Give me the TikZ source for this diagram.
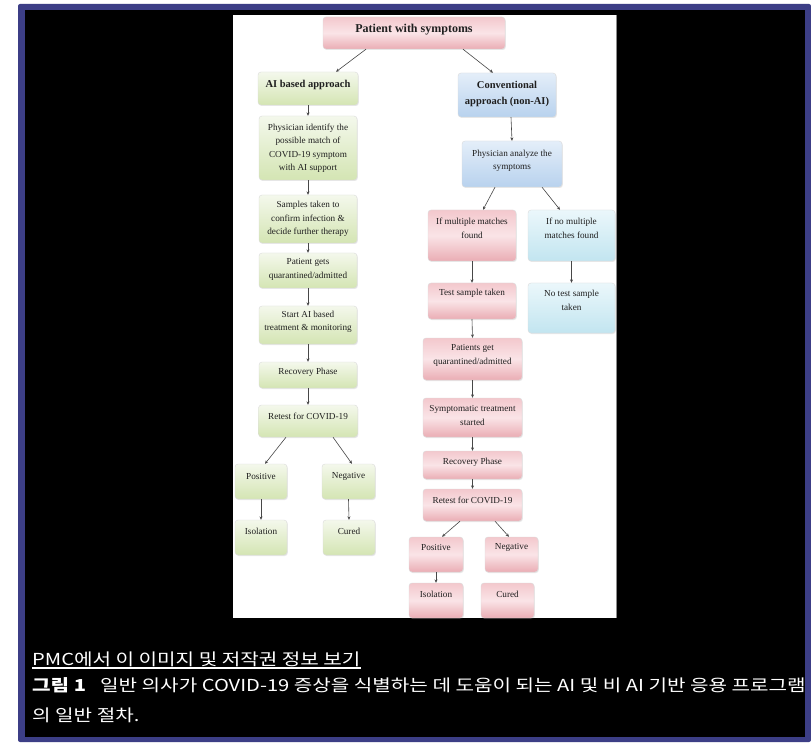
\documentclass[tikz,border=0pt]{standalone}
\usepackage{fontspec}
\usepackage{graphicx}
\setmainfont{Liberation Serif}
\newfontfamily\krfont{Noto Sans CJK KR}
\usetikzlibrary{arrows.meta,shadows,calc}
\definecolor{framebl}{HTML}{3C3E86}
\definecolor{gtop}{HTML}{F4F8EC}
\definecolor{gbot}{HTML}{D4E5B3}
\definecolor{ptop}{HTML}{F3C8CD}
\definecolor{pmid}{HTML}{FAE4E7}
\definecolor{pbot}{HTML}{EAADB4}
\definecolor{btop}{HTML}{E4EEF9}
\definecolor{bbot}{HTML}{B8D2EE}
\definecolor{ctop}{HTML}{EBF7FB}
\definecolor{cbot}{HTML}{C2E5F0}
\newcommand{\flowbox}[9]{%
  \node[#1, minimum width=#5pt, minimum height=#6pt] (#2) at (#3,#4) {};
  \node[#7] (#2t) at ([yshift=#8pt]#2.center) {#9};
}
\tikzset{
  bx/.style={rounded corners=3pt, draw=black!14, line width=0.4pt, inner sep=0pt,
    drop shadow={opacity=0.18, shadow xshift=0.8pt, shadow yshift=-1pt}},
  gbox/.style={bx, top color=gtop, bottom color=gbot},
  pbox/.style={bx, top color=ptop, bottom color=pbot, middle color=pmid},
  bbox/.style={bx, top color=btop, bottom color=bbot},
  cbox/.style={bx, top color=ctop, bottom color=cbot},
  boxtext/.style={align=center, inner sep=0pt, text=black!88, font=\fontsize{9.2}{13.5}\selectfont},
  boldtext/.style={boxtext, font=\bfseries\fontsize{10.5}{16}\selectfont},
  headtext/.style={boxtext, font=\bfseries\fontsize{12}{14}\selectfont},
  arr/.style={draw=black!72, line width=0.6pt, -{Stealth[length=3.4pt,width=3pt]}},
  captext/.style={text=white, inner sep=0pt, anchor=base west, font=\krfont\fontsize{16.5}{18}\selectfont}
}
\begin{document}
\begin{tikzpicture}[x=1pt,y=-1pt]
\useasboundingbox (0,0) rectangle (811,743);
\fill[white] (0,0) rectangle (811,743);
\fill[framebl, rounded corners=2pt] (18,4) rectangle (811,742);
\fill[black] (25,10) rectangle (805,737);
\fill[white] (233,15) rectangle (616,618);
\draw[black!45, line width=0.8pt] (616,15) -- (616,618);

% top
\flowbox{pbox}{pws}{414}{33}{182}{32}{headtext}{3}{Patient with symptoms}
\flowbox{gbox}{ai}{308}{88.5}{100}{33}{boldtext}{4}{AI based approach}
\flowbox{bbox}{conv}{507}{95}{98}{44}{boldtext}{1}{Conventional\\approach (non-AI)}
% AI column
\flowbox{gbox}{a1}{308}{148}{98}{64}{boxtext}{0}{Physician identify the\\possible match of\\COVID-19 symptom\\with AI support}
\flowbox{gbox}{a2}{308}{219}{98}{48}{boxtext}{0}{Samples taken to\\confirm infection \&\\decide further therapy}
\flowbox{gbox}{a3}{308}{270.5}{98}{35}{boxtext}{1}{Patient gets\\quarantined/admitted}
\flowbox{gbox}{a4}{308}{325}{98}{38}{boxtext}{3}{Start AI based\\treatment \& monitoring}
\flowbox{gbox}{a5}{308}{375}{98}{26}{boxtext}{3}{Recovery Phase}
\flowbox{gbox}{a6}{308}{421}{99}{32}{boxtext}{5}{Retest for COVID-19}
\flowbox{gbox}{a7}{261}{481.5}{52}{35}{boxtext}{5.5}{Positive}
\flowbox{gbox}{a8}{348.5}{481.5}{53}{35}{boxtext}{5.5}{Negative}
\flowbox{gbox}{a9}{261}{537.5}{52}{35}{boxtext}{6}{Isolation}
\flowbox{gbox}{a10}{349}{537.5}{52}{35}{boxtext}{6}{Cured}
% conventional column
\flowbox{bbox}{c1}{512}{164}{100}{46}{boxtext}{3}{Physician analyze the\\symptoms}
\flowbox{pbox}{c2}{472}{235.5}{88}{51}{boxtext}{7}{If multiple matches\\found}
\flowbox{cbox}{c3}{571.5}{235.5}{87}{51}{boxtext}{7}{If no multiple\\matches found}
\flowbox{pbox}{c4}{472}{301}{88}{36}{boxtext}{8}{Test sample taken}
\flowbox{cbox}{c5}{571.5}{308}{87}{50}{boxtext}{7.5}{No test sample\\taken}
\flowbox{pbox}{c6}{472.5}{359}{99}{42}{boxtext}{3.5}{Patients get\\quarantined/admitted}
\flowbox{pbox}{c7}{472.5}{417.5}{99}{39}{boxtext}{2}{Symptomatic treatment\\started}
\flowbox{pbox}{c8}{472.5}{465}{99}{28}{boxtext}{3}{Recovery Phase}
\flowbox{pbox}{c9}{472.5}{505}{99}{32}{boxtext}{5}{Retest for COVID-19}
\flowbox{pbox}{c10}{436}{554.5}{54}{35}{boxtext}{7}{Positive}
\flowbox{pbox}{c11}{511.5}{554.5}{53}{35}{boxtext}{7}{Negative}
\flowbox{pbox}{c12}{436}{600.5}{54}{35}{boxtext}{6.5}{Isolation}
\flowbox{pbox}{c13}{507.5}{600.5}{53}{35}{boxtext}{6.5}{Cured}

% connectors
\draw[arr] ([xshift=-48pt]pws.south) -- ([xshift=28pt]ai.north);
\draw[arr] ([xshift=49pt]pws.south) -- ([xshift=-14pt]conv.north);
\draw[arr] (ai.south) -- (a1.north);
\draw[arr] (a1.south) -- (a2.north);
\draw[arr] (a2.south) -- (a3.north);
\draw[arr] (a3.south) -- (a4.north);
\draw[arr] (a4.south) -- (a5.north);
\draw[arr] (a5.south) -- (a6.north);
\draw[arr] ([xshift=-22pt]a6.south) -- ([xshift=4pt]a7.north);
\draw[arr] ([xshift=25pt]a6.south) -- ([xshift=3.5pt]a8.north);
\draw[arr] (a7.south) -- (a9.north);
\draw[arr] (a8.south) -- (a10.north);
\draw[arr] ([xshift=4pt]conv.south) -- (c1.north);
\draw[arr] ([xshift=-17pt]c1.south) -- ([xshift=11pt]c2.north);
\draw[arr] ([xshift=30pt]c1.south) -- ([xshift=-11.5pt]c3.north);
\draw[arr] (c2.south) -- (c4.north);
\draw[arr] (c3.south) -- (c5.north);
\draw[arr] (c4.south) -- (c6.north);
\draw[arr] (c6.south) -- (c7.north);
\draw[arr] (c7.south) -- (c8.north);
\draw[arr] (c8.south) -- (c9.north);
\draw[arr] ([xshift=-12.5pt]c9.south) -- ([xshift=6pt]c10.north);
\draw[arr] ([xshift=22.5pt]c9.south) -- ([xshift=-2.5pt]c11.north);
\draw[arr] (c10.south) -- (c12.north);

% caption
\node[captext] (cap1) at (32,665) {\scalebox{1.22}[1]{PMC에서 이 이미지 및 저작권 정보 보기}};
\draw[white, line width=1.1pt] ([yshift=-3pt]cap1.base west) -- ([yshift=-3pt]cap1.base east);
\node[captext] (cap2) at (32,691) {\scalebox{1.22}[1]{{\bfseries 그림 1}\hspace{0.7em}일반 의사가 COVID-19 증상을 식별하는 데 도움이 되는 AI 및 비 AI 기반 응용 프로그램}};
\node[captext] (cap3) at (32,721) {\scalebox{1.22}[1]{의 일반 절차.}};
\end{tikzpicture}
\end{document}
